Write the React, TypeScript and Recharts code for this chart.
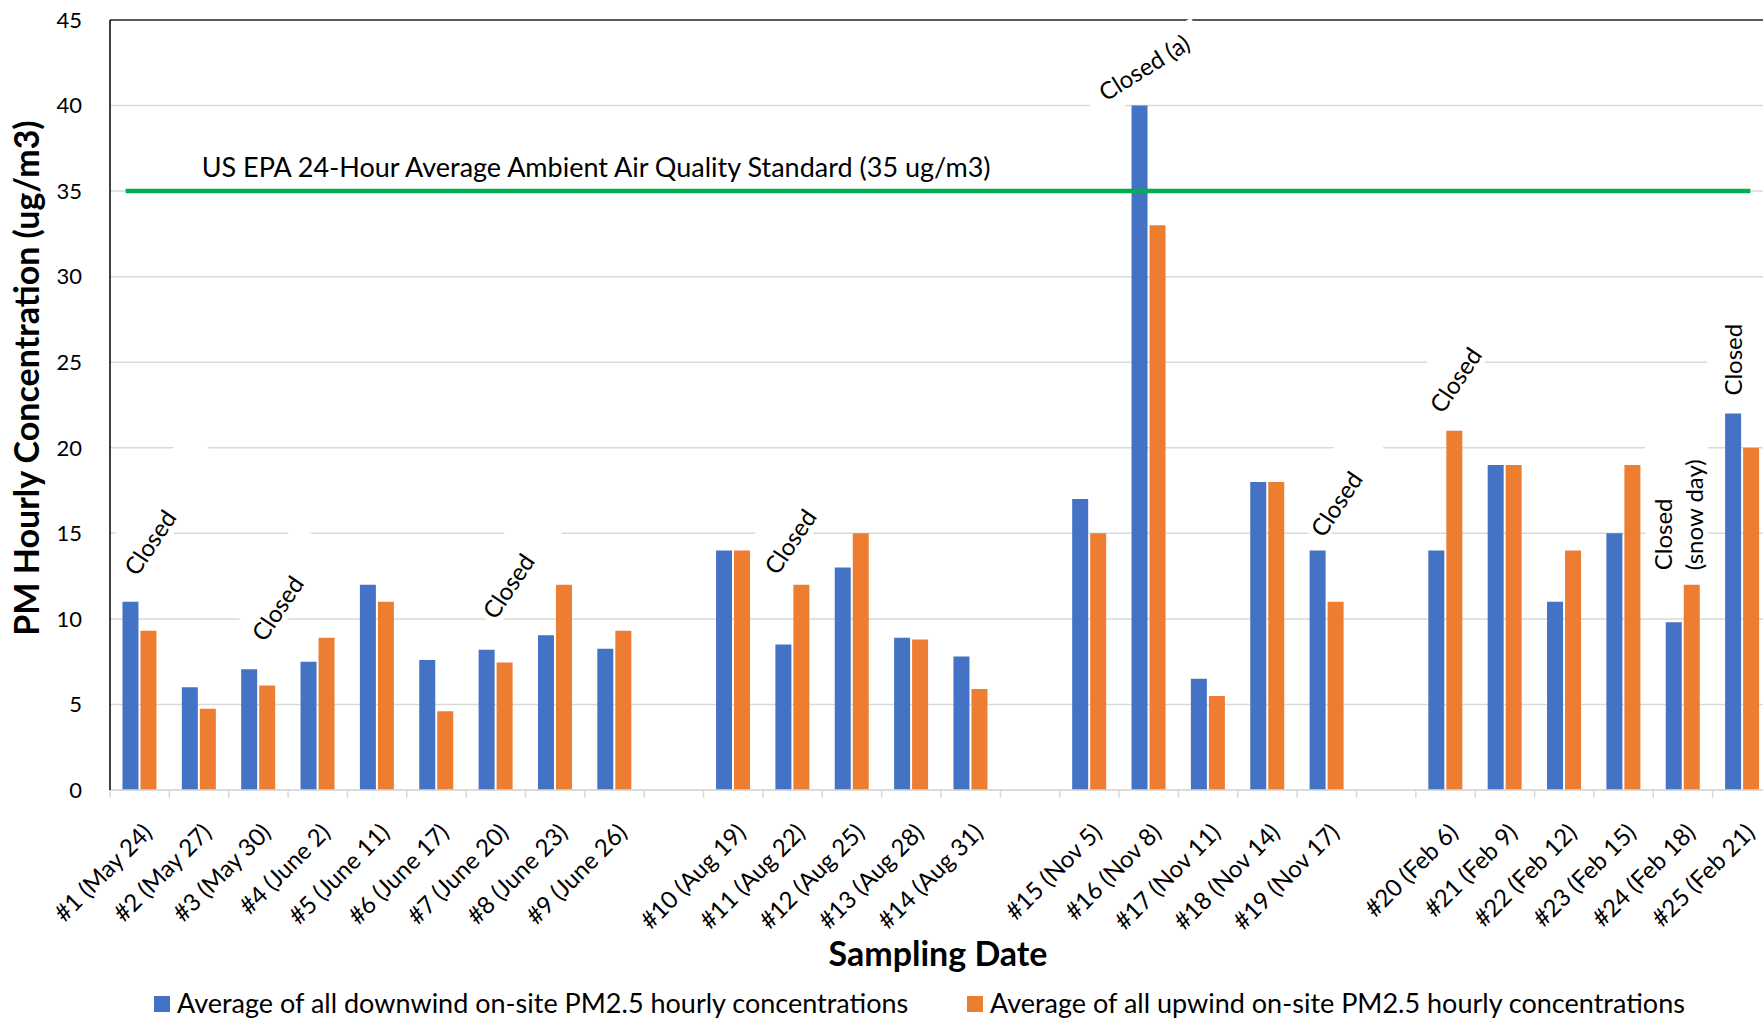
import React from "react";
import {
  BarChart,
  Bar,
  XAxis,
  YAxis,
  CartesianGrid,
  Legend,
  ReferenceLine,
  ReferenceDot,
} from "recharts";

// ---------- data ----------
const categories = [
  "#1 (May 24)", "#2 (May 27)", "#3 (May 30)", "#4 (June 2)", "#5 (June 11)",
  "#6 (June 17)", "#7 (June 20)", "#8 (June 23)", "#9 (June 26)", " ",
  "#10 (Aug 19)", "#11 (Aug 22)", "#12 (Aug 25)", "#13 (Aug 28)", "#14 (Aug 31)", "  ",
  "#15 (Nov 5)", "#16 (Nov 8)", "#17 (Nov 11)", "#18 (Nov 14)", "#19 (Nov 17)", "   ",
  "#20 (Feb 6)", "#21 (Feb 9)", "#22 (Feb 12)", "#23 (Feb 15)", "#24 (Feb 18)", "#25 (Feb 21)",
];

const downwind = [
  11, 6.0, 7.05, 7.5, 12, 7.6, 8.2, 9.05, 8.25, null,
  14, 8.5, 13, 8.9, 7.8, null,
  17, 40, 6.5, 18, 14, null,
  14, 19, 11, 15, 9.8, 22,
];

const upwind = [
  9.3, 4.75, 6.1, 8.9, 11, 4.6, 7.45, 12, 9.3, null,
  14, 12, 15, 8.8, 5.9, null,
  15, 33, 5.5, 18, 11, null,
  21, 19, 14, 19, 12, 20,
];

const seriesNames = [
  "Average of all downwind on-site PM2.5 hourly concentrations",
  "Average of all upwind on-site PM2.5 hourly concentrations",
];

const yTicks = [0, 5, 10, 15, 20, 25, 30, 35, 40, 45];
const standardValue = 35;
const standardLabel = "US EPA 24-Hour Average Ambient Air Quality Standard (35 ug/m3)";
const xTitle = "Sampling Date";
const yTitle = "PM Hourly Concentration (ug/m3)";

// annotation content (category, text lines, value level)
const annCategories = [
  "#1 (May 24)", "#3 (May 30)", "#7 (June 20)", "#11 (Aug 22)", "#16 (Nov 8)",
  "#19 (Nov 17)", "#20 (Feb 6)", "#24 (Feb 18)", "#25 (Feb 21)",
];
const annTexts = [
  ["Closed"], ["Closed"], ["Closed"], ["Closed"], ["Closed (a)"],
  ["Closed"], ["Closed"], ["Closed", "(snow day)"], ["Closed"],
];
const annLevels = [14.45, 10.6, 11.9, 14.5, 42.2, 16.7, 23.95, 12.84, 23.05];

// ---------- layout / style (kept separate from data) ----------
// box = [x, y, w, h] of the white text-box background in the rotated frame
const annLayout = [
  { dx: 10.8, angle: -56, anchor: "middle", box: [-18, -34, 129, 48] },
  { dx: 19.5, angle: -56, anchor: "middle", box: [-30, -34, 111, 48] },
  { dx: 13, angle: -56, anchor: "middle", box: [-40, -34, 120, 48] },
  { dx: -2, angle: -56, anchor: "middle", box: [-30, -34, 110, 48] },
  { dx: -4.4, angle: -32, anchor: "middle", box: [-66, -18, 132, 40] },
  { dx: 10, angle: -56, anchor: "middle", box: [-40, -34, 113, 46] },
  { dx: 10.4, angle: -56, anchor: "middle", box: [-30, -34, 110, 48] },
  { dx: -10.7, angle: -90, anchor: "start", box: [-5, -27, 130, 63] },
  { dx: -0.3, angle: -90, anchor: "start", box: [-5, -35, 100, 56] },
];

const BLUE = "#4472C4";
const ORANGE = "#ED7D31";
const GREEN = "#00B050";
const GRID = "#D9D9D9";
const FONT = "Lato, 'Open Sans', sans-serif";

const data = categories.map((c, i) => ({
  category: c,
  downwind: downwind[i],
  upwind: upwind[i],
}));

const XTick = (props: any) => {
  const { x, y, payload, index } = props;
  const half = payload && payload.offset ? payload.offset : 29.68;
  const label = String(payload.value);
  const last = index === categories.length - 1;
  return (
    <g>
      <line x1={x - half} x2={x - half} y1={y} y2={y + 8} stroke={GRID} strokeWidth={1.5} />
      {last && <line x1={x + half} x2={x + half} y1={y} y2={y + 8} stroke={GRID} strokeWidth={1.5} />}
      {label.trim() !== "" && (
        <text
          transform={`translate(${x + 8},${y + 38}) rotate(-45)`}
          textAnchor="end"
          dy="0.35em"
          fontSize={24}
          fill="#000"
          fontFamily={FONT}
        >
          {label}
        </text>
      )}
    </g>
  );
};

const makeAnnotation = (i: number) => (p: any) => {
  const { cx, cy } = p;
  if (cx == null || cy == null) return <g />;
  const L = annLayout[i];
  const lines = annTexts[i];
  const [bx, by, bw, bh] = L.box;
  return (
    <g transform={`translate(${cx + L.dx},${cy}) rotate(${L.angle})`}>
      <rect x={bx} y={by} width={bw} height={bh} fill="#fff" />
      {lines.map((t, k) => (
        <text
          key={k}
          x={0}
          y={k * 31}
          dy={L.anchor === "middle" ? "0.35em" : 0}
          textAnchor={L.anchor}
          fontSize={24}
          fill="#000"
          fontFamily={FONT}
        >
          {t}
        </text>
      ))}
    </g>
  );
};

const LegendContent = (props: any) => {
  const payload = props.payload || [];
  const xs = [154, 967];
  return (
    <svg width={1772} height={40} style={{ display: "block", overflow: "visible" }}>
      {payload.map((e: any, i: number) => (
        <g key={i}>
          <rect x={xs[i]} y={17} width={16} height={16} fill={e.color} />
          <text x={xs[i] + 23} y={34} fontSize={27} fill="#000" fontFamily={FONT}>
            {e.value}
          </text>
        </g>
      ))}
    </svg>
  );
};

const StandardLine = (p: any) => (
  <line
    x1={p.x1 - 14}
    y1={p.y1}
    x2={p.x2 + 8}
    y2={p.y2}
    stroke={GREEN}
    strokeWidth={4.5}
  />
);

export default function App() {
  return (
    <div
      style={{
        position: "absolute",
        left: 0,
        top: 0,
        width: 1763,
        height: 1019,
        overflow: "hidden",
        background: "#fff",
        fontFamily: FONT,
      }}
    >
      <BarChart
        width={1772}
        height={1019}
        data={data}
        margin={{ top: 20, right: 0, bottom: 0, left: 0 }}
        barCategoryGap="21%"
        barGap={2}
      >
        <CartesianGrid vertical={false} stroke={GRID} strokeWidth={1.5} />
        <XAxis
          dataKey="category"
          interval={0}
          height={189}
          tickSize={0}
          tickMargin={0}
          tickLine={false}
          axisLine={{ stroke: GRID, strokeWidth: 1.5 }}
          tick={<XTick />}
          label={{
            content: (lp: any) => {
              const vb = lp.viewBox || { x: 110, y: 790, width: 1662 };
              return (
                <text
                  x={vb.x + vb.width / 2 - 3}
                  y={vb.y + 176}
                  textAnchor="middle"
                  fontSize={34}
                  fontWeight="bold"
                  fill="#000"
                  fontFamily={FONT}
                >
                  {xTitle}
                </text>
              );
            },
          }}
        />
        <YAxis
          domain={[0, 45]}
          ticks={yTicks}
          width={110}
          tickSize={0}
          tickMargin={28}
          tickLine={false}
          axisLine={{ stroke: "#000", strokeWidth: 1.5 }}
          tick={{ fontSize: 22, fill: "#000", fontFamily: FONT }}
          label={{
            content: (lp: any) => {
              const vb = lp.viewBox || { x: 0, y: 20, width: 110, height: 770 };
              const cy = vb.y + vb.height / 2 - 27;
              return (
                <text
                  transform={`translate(39,${cy}) rotate(-90)`}
                  textAnchor="middle"
                  fontSize={34}
                  fontWeight="bold"
                  fill="#000"
                  fontFamily={FONT}
                >
                  {yTitle}
                </text>
              );
            },
          }}
        />
        <Legend
          verticalAlign="bottom"
          content={<LegendContent />}
          wrapperStyle={{ left: 0, bottom: 0, width: 1772, height: 40 }}
        />
        <ReferenceLine y={45} stroke="#595959" strokeWidth={2} />
        <Bar dataKey="downwind" name={seriesNames[0]} fill={BLUE} isAnimationActive={false} />
        <Bar dataKey="upwind" name={seriesNames[1]} fill={ORANGE} isAnimationActive={false} />
        <ReferenceLine
          segment={[
            { x: categories[0], y: standardValue },
            { x: categories[categories.length - 1], y: standardValue },
          ]}
          stroke={GREEN}
          strokeWidth={4.5}
          shape={StandardLine}
          label={{
            content: (lp: any) => {
              const vb = lp.viewBox || { x: 140, y: 194 };
              return (
                <text x={vb.x + 62} y={vb.y - 14} fontSize={27} fill="#000" fontFamily={FONT}>
                  {standardLabel}
                </text>
              );
            },
          }}
        />
        {annCategories.map((c, i) => (
          <ReferenceDot
            key={i}
            x={c}
            y={annLevels[i]}
            r={0}
            shape={makeAnnotation(i)}
          />
        ))}
      </BarChart>
    </div>
  );
}
